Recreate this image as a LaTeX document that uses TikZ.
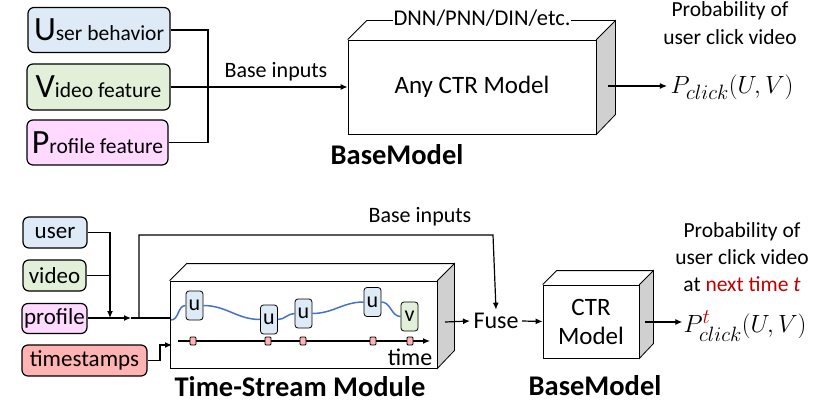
\documentclass[tikz,border=0pt]{standalone}
\usepackage{fontspec}
\setmainfont{Carlito}
\usepackage{amsmath}
\usetikzlibrary{calc}
\usetikzlibrary{positioning}
\usetikzlibrary{arrows.meta}
\definecolor{ublue}{HTML}{DEEBF7}
\definecolor{vgreen}{HTML}{E2F0D9}
\definecolor{ppink}{HTML}{FFD9FF}
\definecolor{tred}{HTML}{FFB3B3}
\definecolor{sidegray}{HTML}{D0D0D0}
\definecolor{curveblue}{HTML}{4472C4}
\definecolor{nextred}{HTML}{C00000}
\newcommand{\fsz}[1]{\fontsize{#1}{#1}\selectfont}
\newcommand{\fszl}[2]{\fontsize{#1}{#2}\selectfont}
\newcommand{\bigfirst}[1]{{\fsz{34}#1}}
\newcommand{\idx}[1]{\mbox{\fsz{20}$#1$}}

\begin{document}
\begin{tikzpicture}[x=1pt, y=-1pt, font=\fsz{21.5},
    >={Latex[length=7pt,width=6pt]}]

                \def\d{19}
                \def\e{17}
                \def\f{14}

                \tikzset{feat/.style={draw, very thick, rounded corners=6pt,
                        inner sep=1pt},
                    small/.style={font=\fsz{23}},
                    tok/.style={draw, thick, rounded corners=3pt, fill=ublue,
                        minimum width=17, minimum height=29, inner sep=0pt,
                        font=\fsz{22}},
                    tmark/.style={draw, thick, fill=tred, rounded corners=1pt,
                        minimum width=6, minimum height=8, inner sep=0pt},
                    heading/.style={font=\bfseries\fsz{28.5}}}

                \useasboundingbox (0,0) rectangle (830,404);

                % top row: the plain base model
                \begin{scope}
                    \node[feat, fill=ublue, minimum width=142, minimum height=45]
                    (ub) at (99,30) {\bigfirst{U}ser behavior};
                    \node[feat, fill=vgreen, minimum width=143, minimum height=46]
                    (vf) at (98.5,87) {\bigfirst{V}ideo feature};
                    \node[feat, fill=ppink, minimum width=141, minimum height=45]
                    (pf) at (97.5,142.5) {\bigfirst{P}rofile feature};

                    \node[draw, thick, minimum width=248, minimum height=94,
                    font=\fsz{25}] (ctr) at (472,87) {Any CTR Model};
                    \node[font=\fsz{22}] (bi) at (276,72) {Base inputs};
                    \node[font=\fsz{25}] (pc) at (732,87) {$P_{\idx{click}}(U,V)$};
                    \node[align=center, font=\fszl{21.5}{28}] (prob)
                    at (730,23) {Probability of\\user click video};
                    \node[heading] (bm) at (397,155) {BaseModel};

                    \coordinate (j1) at (208,87);
                    \coordinate (o1) at (608,86);
                \end{scope}

                % the top box in 3D
                \begin{scope}[thick]
                    \draw[fill=sidegray] (ctr.north east) -- ++(\d,-\d)
                    -- ++(0,94) -- (ctr.south east) -- cycle;
                    \draw (ctr.north west) -- ++(\d,-\d) -| ($(ctr.north east)+(\d,-\d)$);
                \end{scope}
                \node[fill=white, inner sep=1pt, font=\fsz{22.5}] (dnn)
                at (482,18) {DNN/PNN/DIN/etc.};

                \begin{scope}[very thick]
                    \draw (ub.east) -| (j1) |- (pf.east);
                    \draw[->] (vf.east) -- (ctr.west);
                    \draw[->] (o1) -- (pc.west |- o1);
                \end{scope}

                % bottom row: time-stream module in front of the base model
                \begin{scope}
                    \node[feat, small, fill=ublue, minimum width=64, minimum height=31]
                    (us) at (55,232.5) {user};
                    \node[feat, small, fill=vgreen, minimum width=63, minimum height=31]
                    (vd) at (54.5,275.5) {video};
                    \node[feat, small, fill=ppink, minimum width=65, minimum height=30]
                    (pr) at (54.5,318.5) {profile};
                    \node[feat, small, fill=tred, minimum width=125, minimum height=31]
                    (ts) at (84.5,360.5) {timestamps};

                    \node[draw, thick, minimum width=267, minimum height=87]
                    (tsm) at (303.5,324.5) {};
                    \node[heading] (tsl) at (300,387) {Time-Stream Module};

                    \node[font=\fsz{24}] (fuse) at (496,321) {Fuse};
                    \node[draw, thick, minimum width=96, minimum height=73,
                    align=center, font=\fszl{25}{29}]
                    (ctr2) at (591,321.5) {CTR\\Model};
                    \node[heading] (bm2) at (595,386) {BaseModel};

                    \node[font=\fsz{25}, inner sep=1pt] (pc2) at (745,326)
                    {$P^{\idx{\color{nextred}t}}_{\idx{click}}(U,V)$};
                    \node[align=center, font=\fszl{21.5}{27}, inner sep=1pt] (prob2)
                    at (742,257) {Probability of\\user click video\\at
                    \textcolor{nextred}{next time \textit{t}}};
                    \node[font=\fsz{22}] (bi2) at (420,217) {Base inputs};

                    \coordinate (m) at (110,318);
                    \coordinate (a1) at (131,318);
                    \coordinate (b0) at (139,318);
                    \coordinate (b1) at (493,235);
                    \coordinate (t1) at (160,345);
                    \coordinate (t2) at (172,345);
                    \coordinate (o2) at (445,322);
                    \coordinate (o3) at (645,322);
                \end{scope}

                % 3D faces of the two lower boxes
                \begin{scope}[thick]
                    \draw[fill=sidegray] (tsm.north east) -- ++(\e,-\e)
                    -- ++(0,87) -- (tsm.south east) -- cycle;
                    \draw (tsm.north west) -- ++(\e,-\e) -| ($(tsm.north east)+(\e,-\e)$);
                    \draw[fill=sidegray] (ctr2.north east) -- ++(\f,-\f)
                    -- ++(0,73) -- (ctr2.south east) -- cycle;
                    \draw (ctr2.north west) -- ++(\f,-\f) -| ($(ctr2.north east)+(\f,-\f)$);
                \end{scope}

                % inside the time-stream module
                \node[tok] (u1) at (194.5,305.5) {u};
                \node[tok] (u2) at (269,319.5) {u};
                \node[tok] (u3) at (303.5,313.5) {u};
                \node[tok] (u4) at (372.5,302) {u};
                \node[tok, fill=vgreen] (v) at (409.5,316.5) {v};
                \coordinate (c0) at (171,320);
                \draw[curveblue, line width=1.5pt] (c0) to[out=0, in=180] (u1.west)
                    (u1.east) to[out=0, in=180] (u2.west)
                    (u2.east) to[out=0, in=180] (u3.west)
                    (u3.east) to[out=0, in=180] (u4.west)
                    (u4.east) to[out=0, in=180] (v.west);
                \coordinate (ta) at (178,341);
                \coordinate (tb) at (430,341);
                \draw[very thick, ->] (ta) -- (tb);
                \foreach \x in {193,268,303,373,410}
                    \node[tmark] (k\x) at (\x,341) {};
                \node[font=\fsz{24}] (tm) at (410,357) {time};

                \begin{scope}[very thick]
                    \draw[->] (us.east) -| (m);
                    \draw (vd.east) -- (vd.east -| m);
                    \draw[->] (pr.east |- a1) -- (a1);
                    \draw (a1) -- (tsm.west |- a1);
                    \draw[->] (b0) |- (b1) -- (fuse.north);
                    \draw[->] (ts.east) -| (t1) -- (t2);
                    \draw[->] (o2) -- (fuse.west);
                    \draw[->] (fuse.east) -- (ctr2.west);
                    \draw[->] (o3) -- (pc2.west |- o3);
                \end{scope}

                \end{tikzpicture}
\end{document}
